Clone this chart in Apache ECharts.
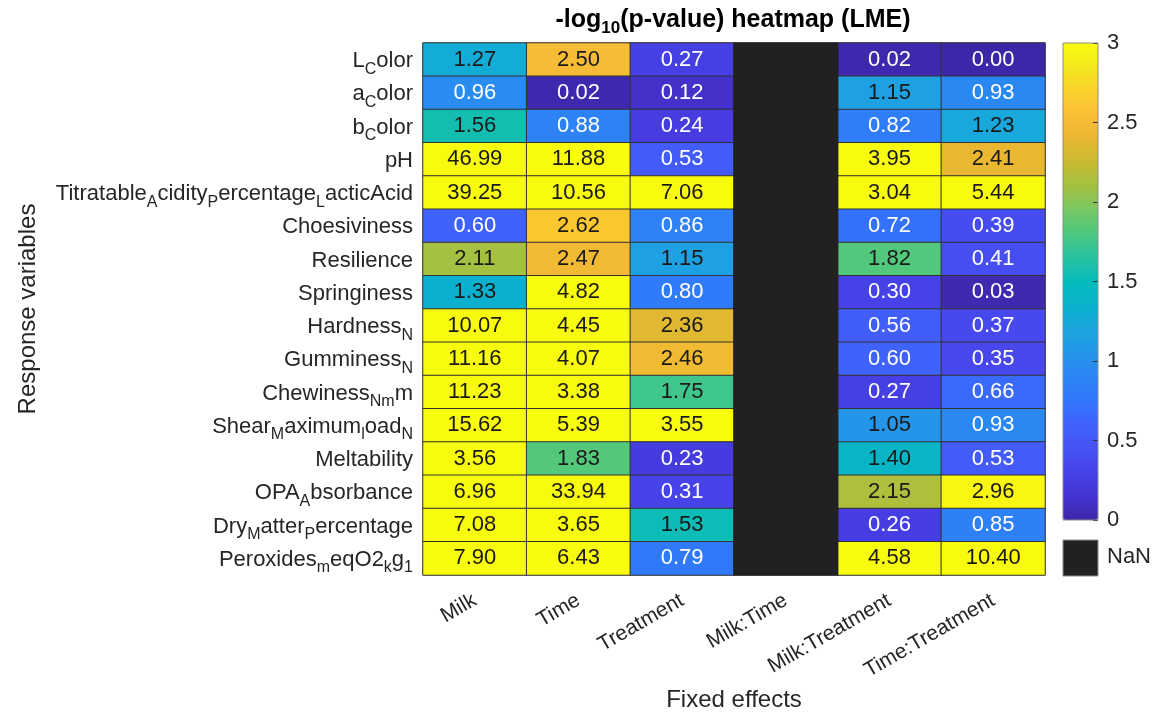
<!DOCTYPE html>
<html>
<head>
<meta charset="utf-8">
<script src="https://cdn.jsdelivr.net/npm/echarts@6/dist/echarts.min.js"></script>
<style>
html,body{margin:0;padding:0;background:#fff;}
#chart{width:1157px;height:713px;}
</style>
</head>
<body>
<div id="chart"></div>
<script>
// Row labels (MATLAB TeX notation: "_X" = subscript of next char)
var responseVars = [
  'L_Color','a_Color','b_Color','pH','Titratable_Acidity_Percentage_LacticAcid',
  'Choesiviness','Resilience','Springiness','Hardness_N','Gumminess_N',
  'Chewiness_N_mm','Shear_Maximum_load_N','Meltability','OPA_Absorbance',
  'Dry_Matter_Percentage','Peroxides_meqO2_kg_1'
];
var fixedEffects = ['Milk','Time','Treatment','Milk:Time','Milk:Treatment','Time:Treatment'];

// -log10(p) values per fixed effect (column), rows in order above
var milk        = [1.27,0.96,1.56,46.99,39.25,0.60,2.11,1.33,10.07,11.16,11.23,15.62,3.56,6.96,7.08,7.90];
var time        = [2.50,0.02,0.88,11.88,10.56,2.62,2.47,4.82,4.45,4.07,3.38,5.39,1.83,33.94,3.65,6.43];
var treatment   = [0.27,0.12,0.24,0.53,7.06,0.86,1.15,0.80,2.36,2.46,1.75,3.55,0.23,0.31,1.53,0.79];
var milkTime    = [null,null,null,null,null,null,null,null,null,null,null,null,null,null,null,null];
var milkTreat   = [0.02,1.15,0.82,3.95,3.04,0.72,1.82,0.30,0.56,0.60,0.27,1.05,1.40,2.15,0.26,4.58];
var timeTreat   = [0.00,0.93,1.23,2.41,5.44,0.39,0.41,0.03,0.37,0.35,0.66,0.93,0.53,2.96,0.85,10.40];

var colorbarTicks = [0, 0.5, 1, 1.5, 2, 2.5, 3];

var parula = ['#3e26a8','#4434d2','#4742e8','#4652f5','#4062fc','#3276fc','#2c85f5',
  '#2496e9','#1ba6de','#0ab2cd','#05bbbb','#28c2a0','#4bc880','#78c764','#a3c142',
  '#c8bb32','#e9b731','#fcbe37','#fad22a','#f5e81e','#f9fb0e'];

var columns = [milk, time, treatment, milkTime, milkTreat, timeTreat];
var valueData = [], nanData = [];
columns.forEach(function (col, ci) {
  col.forEach(function (v, ri) {
    if (v === null) nanData.push([ci, ri, 0]);
    else valueData.push([ci, ri, v]);
  });
});

function tex(s, normKey, subKey) {
  var out = '', buf = '';
  for (var i = 0; i < s.length; i++) {
    if (s[i] === '_' && i + 1 < s.length) {
      if (buf) { out += '{' + normKey + '|' + buf + '}'; buf = ''; }
      out += '{' + subKey + '|' + s[i + 1] + '}';
      i++;
    } else buf += s[i];
  }
  if (buf) out += '{' + normKey + '|' + buf + '}';
  return out;
}

var TXT = '#262626';
var FONT = '"Liberation Sans", Arial, Helvetica, sans-serif';
var gridL = 423, gridT = 43, gridW = 622, gridH = 532;
var cbL = 1063, cbT = 43, cbW = 35, cbH = 477;

var chart = echarts.init(document.getElementById('chart'));
chart.setOption({
  backgroundColor: '#ffffff',
  textStyle: { fontFamily: FONT },
  title: {
    text: '{n|-log}{s|10}{n|(p-value) heatmap (LME)}',
    left: gridL + gridW / 2 - 6, top: 3, textAlign: 'center',
    textStyle: {
      rich: {
        n: { fontSize: 25, fontWeight: 'bold', color: '#000', fontFamily: FONT, verticalAlign: 'bottom', padding: [0,0,4,0] },
        s: { fontSize: 17, fontWeight: 'bold', color: '#000', fontFamily: FONT, verticalAlign: 'bottom' }
      }
    }
  },
  grid: [
    { left: gridL, top: gridT, width: gridW, height: gridH, show: true, borderColor: '#9a9a9a', borderWidth: 1,
      containLabel: false, outerBoundsMode: 'none' },
    { left: cbL, top: cbT, width: cbW, height: cbH, containLabel: false, outerBoundsMode: 'none' }
  ],
  xAxis: [
    {
      type: 'category', data: fixedEffects, gridIndex: 0, position: 'bottom',
      axisLine: { show: false }, axisTick: { show: false }, splitLine: { show: false },
      axisLabel: { rotate: 30, fontSize: 21, color: TXT, margin: 24, fontFamily: FONT },
      name: 'Fixed effects', nameLocation: 'middle', nameGap: 113, nameMoveOverlap: false,
      nameTextStyle: { fontSize: 24, color: TXT, fontFamily: FONT }
    },
    { type: 'value', gridIndex: 1, show: false, min: 0, max: 1 }
  ],
  yAxis: [
    {
      type: 'category', data: responseVars, gridIndex: 0, inverse: true,
      axisLine: { show: false }, axisTick: { show: false }, splitLine: { show: false },
      axisLabel: {
        margin: 10, color: TXT,
        formatter: function (v) { return tex(v, 'n', 's'); },
        rich: {
          n: { fontSize: 22, color: TXT, fontFamily: FONT, verticalAlign: 'bottom', padding: [8,0,5,0] },
          s: { fontSize: 16, color: TXT, fontFamily: FONT, verticalAlign: 'bottom' }
        }
      },
      name: 'Response variables', nameLocation: 'middle', nameGap: 383, nameRotate: 90, nameMoveOverlap: false,
      nameTextStyle: { fontSize: 24, color: TXT, fontFamily: FONT }
    },
    {
      type: 'value', gridIndex: 1, min: colorbarTicks[0], max: colorbarTicks[colorbarTicks.length - 1],
      interval: 0.5, position: 'right', z: 20,
      axisLine: { show: false, onZero: false }, splitLine: { show: false },
      axisTick: { show: true, inside: true, length: 5, lineStyle: { color: '#303030' } },
      axisLabel: { fontSize: 22, color: TXT, margin: 9, fontFamily: FONT,
        formatter: function (v) { return String(v); } }
    }
  ],
  visualMap: {
    type: 'continuous', min: 0, max: 3, seriesIndex: 0, calculable: false,
    orient: 'vertical', left: cbL, top: cbT, itemWidth: cbW, itemHeight: cbH,
    padding: 0, text: null, hoverLink: false, z: 2,
    inRange: { color: parula }
  },
  graphic: [
    { type: 'rect', z: 100, shape: { x: cbL, y: cbT, width: cbW, height: cbH },
      style: { fill: 'none', stroke: '#8c8c8c', lineWidth: 1 } },
    { type: 'rect', z: 100, shape: { x: cbL, y: 540, width: cbW, height: 36 },
      style: { fill: '#212121', stroke: '#8c8c8c', lineWidth: 1 } },
    { type: 'text', z: 100, left: 1107, top: 546,
      style: { text: 'NaN', fontSize: 22, fill: TXT, fontFamily: FONT } }
  ],
  series: [
    {
      type: 'heatmap', xAxisIndex: 0, yAxisIndex: 0, data: valueData,
      itemStyle: { borderColor: '#333333', borderWidth: 1 },
      emphasis: { disabled: true },
      label: {
        show: true,
        formatter: function (p) {
          var v = p.value[2];
          return (v < 1 ? '{w|' : '{k|') + v.toFixed(2) + '}';
        },
        rich: {
          w: { color: '#ffffff', fontSize: 22, fontFamily: FONT },
          k: { color: '#1a1a1a', fontSize: 22, fontFamily: FONT }
        }
      }
    },
    {
      type: 'heatmap', xAxisIndex: 0, yAxisIndex: 0, data: nanData,
      itemStyle: { color: '#212121', borderColor: '#212121', borderWidth: 1 },
      emphasis: { disabled: true },
      label: { show: false }
    }
  ]
});
</script>
</body>
</html>
